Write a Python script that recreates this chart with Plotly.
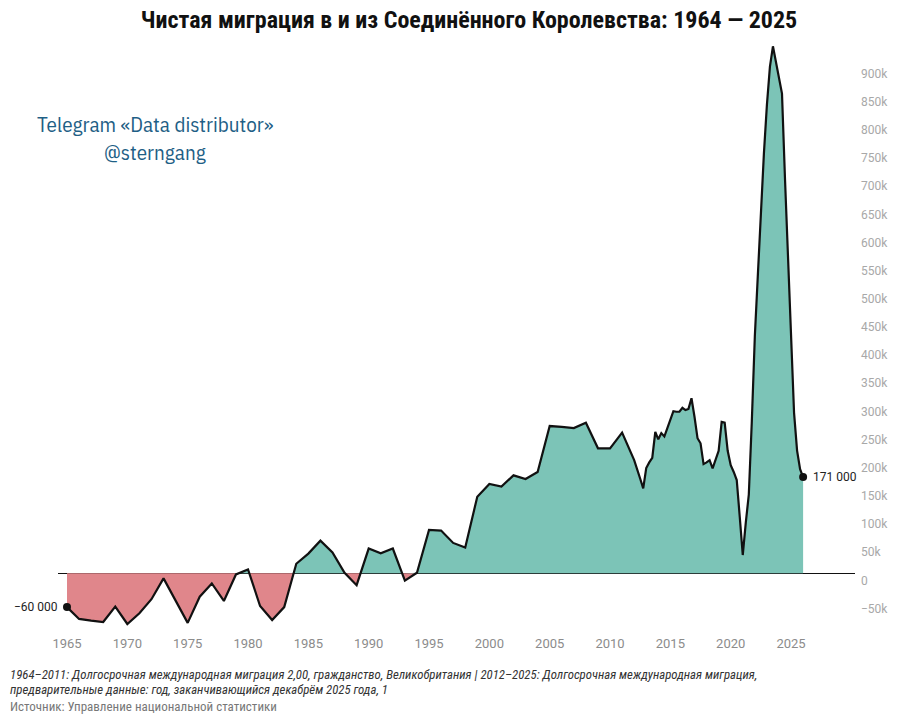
import plotly.graph_objects as go

# ---------------- data ----------------
annual_years = list(range(1964, 2012))
annual_values = [
    -60000, -81000, -84000, -86500, -59000, -90000, -71000, -46000, -9000, -48000,
    -88000, -41500, -18000, -49000, -2000, 7000, -58000, -83000, -60000, 17000,
    35000, 58000, 37000, 1000, -21000, 44000, 35500, 44000, -13000, 1000,
    77000, 76000, 54000, 46000, 136000, 158600, 154000, 174000, 167500, 180000,
    261600, 260000, 258000, 267500, 222000, 222000, 250000, 201000,
]
# year ending (YYYY-MM)
quarter_periods = [
    "2012-03", "2012-06", "2012-09", "2012-12",
    "2013-03", "2013-06", "2013-09", "2013-12",
    "2014-03", "2014-06", "2014-09", "2014-12",
    "2015-03", "2015-06", "2015-09", "2015-12",
    "2016-03", "2016-06", "2016-09", "2016-12",
    "2017-03", "2017-06", "2017-09", "2017-12",
    "2018-03", "2018-06", "2018-09", "2018-12",
    "2019-03", "2019-06", "2019-09", "2019-12",
    "2020-03", "2020-06", "2020-09", "2020-12",
    "2021-03", "2021-06", "2021-09", "2021-12",
    "2022-03", "2022-06", "2022-09", "2022-12",
    "2023-03", "2023-06", "2023-09", "2023-12",
    "2024-03", "2024-06", "2024-09", "2024-12",
    "2025-03", "2025-06", "2025-09", "2025-12",
]
quarter_values = [
    186000, 168000, 151000, 187000,
    197000, 205000, 251000, 238000,
    249000, 243000, 258000, 275000,
    288000, 287000, 287000, 294000,
    290000, 292000, 311000, 278000,
    240000, 231000, 194000, 197000,
    201000, 186500, 201000, 217700,
    269000, 267500, 217700, 192000,
    180000, 165700, 100000, 32500,
    90000, 140000, 270000, 421000,
    530000, 645000, 745000, 832000,
    900000, 936000, 910000, 880000,
    852000, 700000, 555000, 405000,
    285000, 218000, 185000, 171000,
]

x_tick_years = [1965, 1970, 1975, 1980, 1985, 1990, 1995, 2000, 2005, 2010, 2015, 2020, 2025]
y_tick_values = [-50000] + [i * 50000 for i in range(0, 19)]
y_tick_labels = ["\u221250k", "0"] + [f"{i * 50}k" for i in range(1, 19)]

title_text = "Чистая миграция в и из Соединённого Королевства: 1964 — 2025"
watermark_1 = "Telegram «Data distributor»"
watermark_2 = "@sterngang"
note_1 = ("1964–2011: Долгосрочная международная миграция 2,00, гражданство, Великобритания | "
          "2012–2025: Долгосрочная международная миграция,")
note_2 = "предварительные данные: год, заканчивающийся декабрём 2025 года, 1"
source_text = "Источник: Управление национальной статистики"
first_label = "\u221260 000"
last_label = "171 000"

TEAL = "#7cc4b7"
PINK = "#e0868b"

# ---------------- positions (end of period, decimal years) ----------------
xs = [y + 12 / 12 for y in annual_years] + [int(p[:4]) + int(p[5:]) / 12 for p in quarter_periods]
vs = annual_values + quarter_values

# split into positive / negative parts with zero crossings
px, py, nx, ny = [], [], [], []
for i in range(len(xs)):
    if i > 0:
        v0, v1 = vs[i - 1], vs[i]
        if (v0 < 0 < v1) or (v1 < 0 < v0):
            xc = xs[i - 1] + (xs[i] - xs[i - 1]) * (-v0) / (v1 - v0)
            px.append(xc); py.append(0)
            nx.append(xc); ny.append(0)
    px.append(xs[i]); py.append(max(vs[i], 0))
    nx.append(xs[i]); ny.append(min(vs[i], 0))

fig = go.Figure()
fig.add_trace(go.Scatter(x=nx, y=ny, mode="lines", line=dict(width=0, color=PINK),
                         fill="tozeroy", fillcolor=PINK, hoverinfo="skip"))
fig.add_trace(go.Scatter(x=px, y=py, mode="lines", line=dict(width=0, color=TEAL),
                         fill="tozeroy", fillcolor=TEAL, hoverinfo="skip"))
fig.add_trace(go.Scatter(x=xs, y=vs, mode="lines",
                         line=dict(color="#111111", width=2.2)))
fig.add_trace(go.Scatter(x=[xs[0], xs[-1]], y=[vs[0], vs[-1]], mode="markers",
                         marker=dict(color="#111111", size=8)))

condensed = "'Roboto Condensed', 'Liberation Sans Narrow', 'DejaVu Sans Condensed', Roboto, sans-serif"
wm_font = "'IBM Plex Sans Condensed', 'Roboto Condensed', Roboto"

fig.update_layout(
    width=900, height=725,
    margin=dict(l=58, r=45, t=40, b=97),
    paper_bgcolor="white", plot_bgcolor="white",
    showlegend=False,
    title=dict(text=f"<b>{title_text}</b>", x=469 / 900, xanchor="center", xref="container",
               y=1 - 20 / 725, yanchor="middle", yref="container",
               font=dict(family=condensed, size=24, color="#111111")),
    xaxis=dict(range=[1964.254, 2030.30], tickvals=x_tick_years,
               ticktext=[str(y) for y in x_tick_years],
               showgrid=False, zeroline=False, showline=False, ticks="",
               ticklabelstandoff=6,
               tickfont=dict(family="Roboto", size=13, color="#8c8c8c")),
    yaxis=dict(range=[-97100, 947200], side="right", tickvals=y_tick_values,
               ticktext=y_tick_labels, showgrid=False, zeroline=True,
               zerolinecolor="#111111", zerolinewidth=1.3, showline=False, ticks="",
               ticklabelshift=7, ticklabelstandoff=5,
               tickfont=dict(family="Roboto", size=12, color="#a8a8a8")),
)

ann = [
    dict(text=first_label, x=xs[0], y=vs[0], xref="x", yref="y", xanchor="right",
         yanchor="middle", xshift=-7, showarrow=False,
         font=dict(family="Roboto", size=12, color="#222222")),
    dict(text=last_label, x=xs[-1], y=vs[-1], xref="x", yref="y", xanchor="left",
         yanchor="middle", xshift=8, showarrow=False,
         font=dict(family="Roboto", size=12, color="#222222")),
    dict(text=watermark_1, x=(155 - 58) / 797, y=(628 - 124) / 588, xref="paper", yref="paper",
         xanchor="center", yanchor="middle", showarrow=False,
         font=dict(family=wm_font, size=21, color="#1f5f86")),
    dict(text=watermark_2, x=(155 - 58) / 797, y=(628 - 152) / 588, xref="paper", yref="paper",
         xanchor="center", yanchor="middle", showarrow=False,
         font=dict(family=wm_font, size=21, color="#1f5f86")),
    dict(text=f"<i>{note_1}</i>", x=(8 - 58) / 797, y=(628 - 674) / 588, xref="paper", yref="paper",
         xanchor="left", yanchor="middle", showarrow=False,
         font=dict(family=condensed, size=12.8, color="#333333")),
    dict(text=f"<i>{note_2}</i>", x=(8 - 58) / 797, y=(628 - 689) / 588, xref="paper", yref="paper",
         xanchor="left", yanchor="middle", showarrow=False,
         font=dict(family=condensed, size=12.8, color="#333333")),
    dict(text=source_text, x=(8 - 58) / 797, y=(628 - 706) / 588, xref="paper", yref="paper",
         xanchor="left", yanchor="middle", showarrow=False,
         font=dict(family=condensed, size=13, color="#777777")),
]
fig.update_layout(annotations=ann)

fig.write_html("out.html")
